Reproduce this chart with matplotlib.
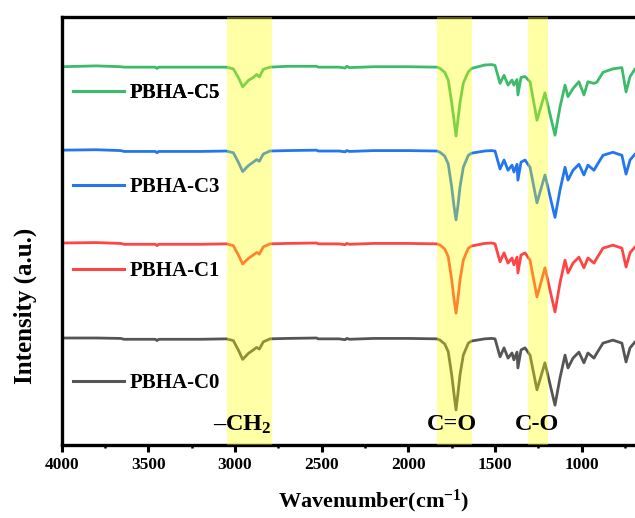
import matplotlib
matplotlib.use('Agg')
import matplotlib.pyplot as plt
from matplotlib.lines import Line2D

plt.rcParams['font.family'] = ['Liberation Serif', 'DejaVu Serif']
plt.rcParams['font.weight'] = 'bold'
plt.rcParams['mathtext.fontset'] = 'custom'
plt.rcParams['mathtext.rm'] = 'Liberation Serif:bold'
plt.rcParams['mathtext.bf'] = 'Liberation Serif:bold'
plt.rcParams['mathtext.default'] = 'rm'

# wavenumbers (cm-1), shared by all four spectra
wavenumber = [4000, 3800, 3660, 3640, 3460, 3450, 3440, 3200, 3050, 3010,
              2981, 2956, 2923, 2895, 2875, 2860, 2837, 2798, 2700, 2530,
              2520, 2400, 2365, 2355, 2340, 2200, 2000, 1835, 1817, 1790,
              1770, 1750, 1737, 1725, 1714, 1702, 1683, 1654, 1635, 1560,
              1519, 1500, 1471, 1448, 1425, 1402, 1391, 1373, 1368, 1350,
              1327, 1298, 1258, 1212, 1154, 1125, 1096, 1079, 1050, 1016,
              987, 964, 929, 912, 877, 820, 768, 744, 721, 692, 650]

# stacked intensities (a.u.)
c0 = [25.0, 25.0, 24.9, 24.7, 24.7, 24.4, 24.7, 24.7, 24.8, 24.4,
      22.2, 20.0, 21.4, 22.2, 22.8, 22.4, 24.1, 24.8, 24.9, 25.0,
      24.8, 24.8, 24.6, 24.9, 24.7, 24.9, 24.9, 24.8, 24.5, 23.6,
      21.8, 16.4, 12.0, 8.2, 12.0, 16.4, 21.0, 23.8, 24.3, 24.8,
      24.9, 24.8, 20.6, 22.7, 20.3, 21.5, 19.9, 21.7, 18.0, 22.2,
      22.7, 21.0, 12.9, 19.2, 9.3, 15.7, 21.0, 18.0, 20.3, 21.7,
      19.2, 21.5, 20.3, 21.5, 23.8, 24.5, 23.8, 19.4, 22.7, 24.1, 24.5]
c1 = [47.2, 47.3, 47.1, 46.9, 46.9, 46.6, 46.9, 46.9, 47.0, 46.6,
      44.4, 42.3, 43.6, 44.4, 45.0, 44.6, 46.3, 47.0, 47.1, 47.2,
      47.0, 47.0, 46.8, 47.1, 46.9, 47.1, 47.1, 47.0, 46.7, 45.8,
      44.0, 38.6, 34.2, 30.8, 34.2, 38.6, 43.2, 46.0, 46.5, 47.1,
      47.2, 47.0, 42.8, 44.9, 42.5, 43.7, 42.1, 43.9, 40.2, 44.4,
      44.9, 43.2, 34.6, 41.4, 31.1, 37.9, 43.2, 40.2, 42.5, 43.9,
      41.4, 43.7, 42.5, 43.7, 46.0, 46.7, 46.0, 41.6, 44.9, 46.3, 46.7]
c3 = [68.9, 69.0, 68.8, 68.6, 68.6, 68.3, 68.6, 68.6, 68.7, 68.3,
      66.1, 63.9, 65.3, 66.1, 66.7, 66.3, 68.0, 68.7, 68.8, 68.9,
      68.7, 68.7, 68.5, 68.8, 68.6, 68.8, 68.8, 68.7, 68.4, 67.5,
      65.7, 60.3, 55.9, 52.6, 55.9, 60.3, 64.9, 67.7, 68.2, 68.7,
      68.8, 68.7, 64.5, 66.6, 64.2, 65.4, 63.8, 65.6, 61.9, 66.1,
      66.6, 64.9, 56.6, 63.1, 53.2, 59.6, 64.9, 61.9, 64.2, 65.6,
      63.1, 65.4, 64.2, 65.4, 67.7, 68.4, 67.7, 63.3, 66.6, 68.0, 68.4]
c5 = [88.4, 88.6, 88.4, 88.3, 88.3, 88.0, 88.3, 88.3, 88.3, 87.9,
      85.9, 83.7, 85.2, 85.9, 86.6, 86.0, 87.8, 88.3, 88.5, 88.5,
      88.3, 88.3, 88.1, 88.5, 88.2, 88.4, 88.4, 88.3, 88.0, 87.1,
      85.3, 80.0, 76.0, 72.2, 76.0, 80.0, 84.6, 87.2, 88.0, 88.8,
      88.9, 88.7, 84.5, 86.4, 84.1, 85.3, 84.1, 85.4, 81.8, 85.9,
      86.1, 84.9, 75.9, 82.3, 72.4, 79.0, 84.1, 81.4, 83.3, 84.9,
      81.8, 84.9, 84.5, 84.8, 87.1, 87.9, 88.2, 82.5, 86.1, 87.9, 88.2]

labels = ['PBHA-C0', 'PBHA-C1', 'PBHA-C3', 'PBHA-C5']
colors = ['#555555', '#FF4444', '#2277EE', '#3DBB6A']
series = [c0, c1, c3, c5]

# highlighted bands (cm-1) and their labels
bands = [(3045, 2788), (1837, 1631), (1308, 1196)]
band_labels = ['–CH$_2$', 'C=O', 'C-O']
band_label_x = [2960, 1748, 1260]

fig = plt.figure(figsize=(6.35, 5.18), dpi=100)
ax = fig.add_axes([0.0972, 0.141, 0.9826, 0.826])

for y, c, lab in zip(series, colors, labels):
    ax.plot(wavenumber, y, color=c, lw=2.0, label=lab, zorder=2)

for lo, hi in bands:
    ax.axvspan(hi, lo, color='yellow', alpha=0.35, lw=0, zorder=3)

for txt, xpos in zip(band_labels, band_label_x):
    ax.text(xpos, 4.7, txt, ha='center', va='center', fontsize=17.5,
            fontweight='bold', zorder=4)

ax.set_xlim(4000, 400)
ax.set_ylim(0, 100)
ax.set_xticks([4000, 3500, 3000, 2500, 2000, 1500, 1000])
ax.set_xticks(range(3750, 600, -500), minor=True)
ax.set_yticks([])
ax.tick_params(axis='x', which='major', direction='out', length=5, width=2.2,
               labelsize=12.5, pad=4)
ax.tick_params(axis='x', which='minor', direction='out', length=2.5, width=1.8)
for lbl in ax.get_xticklabels():
    lbl.set_fontweight('bold')
for s in ax.spines.values():
    s.set_linewidth(2.4)

ax.set_xlabel('Wavenumber(cm$^{-1}$)', fontsize=16, fontweight='bold', labelpad=10)
fig.text(0.04, 0.41, 'Intensity (a.u.)', rotation=90, fontsize=18,
         fontweight='bold', ha='center', va='center')

# one small legend per spectrum, each placed beside its trace
legend_y = [1 - 383 / 518, 1 - 271 / 518, 1 - 187 / 518, 1 - 93.5 / 518]
for lab, c, ly in zip(labels, colors, legend_y):
    h = Line2D([], [], color=c, lw=2.2)
    leg = ax.legend([h], [lab], loc='center left', bbox_to_anchor=(73 / 635, ly),
                    bbox_transform=fig.transFigure, frameon=False, borderpad=0,
                    borderaxespad=0, handlelength=2.45, handletextpad=0.25,
                    prop={'family': 'Liberation Serif', 'weight': 'bold', 'size': 15})
    ax.add_artist(leg)

fig.savefig('out.png', dpi=100)
